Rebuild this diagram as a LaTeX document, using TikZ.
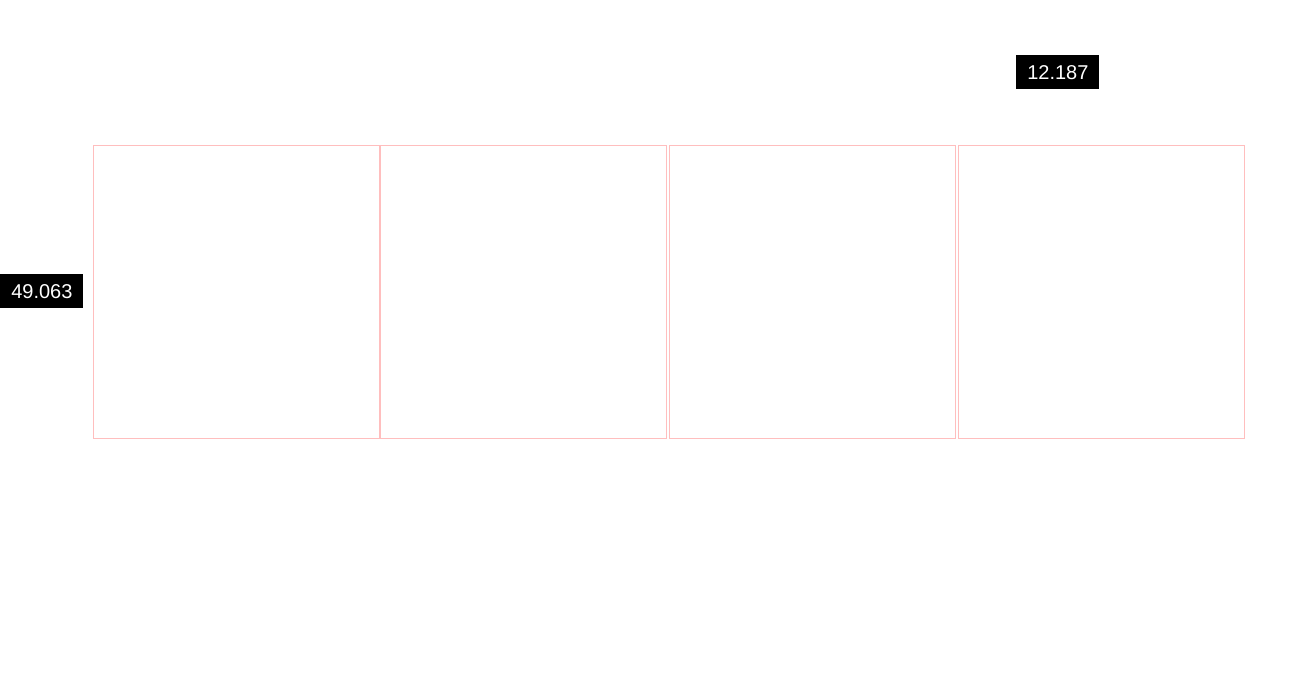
\documentclass[tikz,border=0pt]{standalone}
\usepackage{fontspec}
\setmainfont{Liberation Sans}
\definecolor{panelred}{RGB}{255,190,190}

\begin{document}
\begin{tikzpicture}[x=0.5pt,y=-0.5pt,
  panel/.style={draw=panelred,line width=0.6pt,minimum width=143pt,minimum height=146.5pt,anchor=north west,inner sep=0pt},
  tag/.style={fill=black,text=white,font=\fontsize{10}{12}\selectfont,minimum width=41.5pt,minimum height=17pt,inner sep=0pt,anchor=north west}]
  \useasboundingbox (0,0) rectangle (1306,678);
  \node[panel] (p1) at (93,145) {};
  \node[panel] (p2) at (380,145) {};
  \node[panel] (p3) at (669,145) {};
  \node[panel] (p4) at (958,145) {};
  \node[tag] (w) at (0,274) {49.063};
  \node[tag] (h) at (1016,55) {12.187};
\end{tikzpicture}
\end{document}
